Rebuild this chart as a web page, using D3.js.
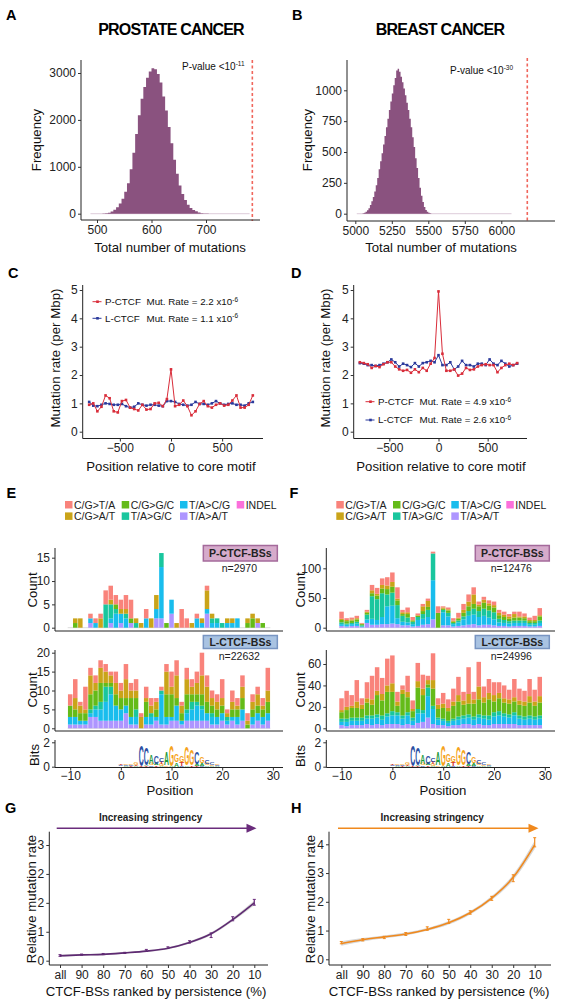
<!DOCTYPE html>
<html><head><meta charset="utf-8">
<script src="https://cdn.jsdelivr.net/npm/d3@7"></script>
<style>body{margin:0;background:#fff}</style>
</head><body>
<script>
// ---------------- DATA ----------------
// Panel A: prostate permutation histogram (bin start, bin width 5)
const prostateBins   = [510,515,520,525,530,535,540,545,550,555,560,565,570,575,580,585,590,595,600,605,610,615,620,625,630,635,640,645,650,655,660,665,670,675,680,685,690,695,700];
const prostateCounts = [3,8,20,45,85,140,220,320,470,650,950,1300,1700,2100,2450,2700,2900,3030,3100,3080,2980,2800,2500,2200,1850,1500,1150,850,600,420,290,190,120,80,50,25,12,5,2];
const prostateObserved = 785;
// Panel B: breast permutation histogram (bin start, bin width 10)
const breastBins   = [5050,5060,5070,5080,5090,5100,5110,5120,5130,5140,5150,5160,5170,5180,5190,5200,5210,5220,5230,5240,5250,5260,5270,5280,5290,5300,5310,5320,5330,5340,5350,5360,5370,5380,5390,5400,5410,5420,5430,5440,5450,5460,5470,5480,5490,5500,5510];
const breastCounts = [3,8,15,28,45,70,100,135,180,230,290,360,425,490,560,630,700,770,840,910,975,1040,1100,1160,1175,1150,1110,1065,1015,960,900,840,770,700,620,540,450,370,290,210,145,95,55,30,15,7,3];
const breastObserved = 6178;
// Panels C/D: mutation rate around motif
const motifOffsets = [-800,-760,-720,-680,-640,-600,-560,-520,-480,-440,-400,-360,-320,-280,-240,-200,-160,-120,-80,-40,0,40,80,120,160,200,240,280,320,360,400,440,480,520,560,600,640,680,720,760,800];
const prostatePRate = [0.95,1.0,0.72,0.88,1.28,1.18,0.72,0.68,1.08,1.12,0.85,0.8,0.75,0.95,0.78,0.8,1.0,1.02,0.9,1.15,2.2,0.9,0.95,1.1,0.9,0.58,0.72,0.98,1.08,0.9,0.85,0.95,1.0,0.92,0.95,1.1,1.28,0.85,0.85,0.95,1.28];
const prostateLRate = [1.05,0.92,0.9,0.95,1.0,0.98,0.95,0.95,0.98,0.9,0.85,0.88,1.0,0.95,0.92,0.95,0.95,0.92,0.9,1.08,1.08,1.05,0.98,0.95,0.92,0.95,1.05,0.98,0.98,0.95,1.0,1.08,1.0,0.95,0.98,1.0,0.95,0.95,0.92,1.0,1.05];
const breastPRate = [2.45,2.42,2.38,2.25,2.32,2.28,2.38,2.45,2.45,2.3,2.2,2.15,2.18,2.08,2.2,2.1,2.25,2.15,2.4,2.6,4.95,2.75,2.15,2.15,2.2,1.98,2.05,2.25,2.18,2.2,2.3,2.35,2.38,2.35,2.35,2.1,2.25,2.35,2.4,2.35,2.42];
const breastLRate = [2.42,2.4,2.35,2.35,2.32,2.35,2.4,2.45,2.55,2.45,2.3,2.4,2.35,2.28,2.42,2.3,2.42,2.45,2.5,2.45,2.7,2.35,2.35,2.45,2.2,2.3,2.5,2.35,2.35,2.3,2.4,2.4,2.35,2.55,2.4,2.35,2.5,2.4,2.3,2.35,2.4];
// Panels E/F: mutation counts per motif position
const motifPositions = [-10,-9,-8,-7,-6,-5,-4,-3,-2,-1,0,1,2,3,4,5,6,7,8,9,10,11,12,13,14,15,16,17,18,19,20,21,22,23,24,25,26,27,28,29];
const mutTypes  = ["C/G>T/A","C/G>A/T","C/G>G/C","T/A>G/C","T/A>C/G","T/A>A/T","INDEL"];
const mutColors = ["#F8766D","#C49A00","#53B400","#00C094","#00B6EB","#A58AFF","#FB61D7"];
// rows: counts stacked bottom->top in this order
const stackOrder = ["T/A>A/T","T/A>C/G","T/A>G/C","C/G>G/C","C/G>A/T","C/G>T/A"];
const prostatePCounts = [[0,0,0,0,0,0],[0,0,0,1,1,0],[0,0,0,0,2,0],[0,0,0,0,0,0],[1,1,0,0,0,1],[0,1,0,0,0,1],[0,0,0,0,2,1],[0,0,5,0,0,3],[1,1,3,0,1,3],[0,3,1,1,0,2],[1,2,0,0,1,2],[0,2,1,0,1,3],[1,0,0,1,0,4],[0,0,1,0,1,0],[0,0,0,0,1,0],[0,2,0,0,0,2],[0,0,0,0,2,0],[2,2,0,0,3,0],[2,11,3,0,0,0],[0,0,0,1,0,0],[3,3,0,0,0,0],[0,0,0,0,1,0],[0,0,0,0,0,4],[0,0,0,0,0,2],[0,0,0,0,1,0],[0,2,0,0,0,1],[0,1,0,0,1,0],[3,1,0,0,4,1],[0,1,1,0,1,0],[0,1,1,0,0,0],[0,0,1,0,0,0],[0,1,0,0,1,0],[0,1,0,0,1,0],[0,2,0,0,0,0],[0,0,0,0,0,0],[0,0,0,1,1,0],[0,0,0,2,1,0],[1,0,0,0,1,0],[0,0,0,1,0,0],[0,0,0,0,0,0]];
const prostateLCounts = [[1,2,0,3,0,3],[1,2,0,2,3,5],[1,1,0,2,2,1],[1,1,0,2,1,6],[3,1,1,4,5,2],[3,2,1,4,2,2],[2,3,2,5,4,2],[2,5,4,1,3,2],[2,7,2,1,2,1],[2,4,0,3,3,3],[2,3,0,3,2,2],[4,2,0,2,5,4],[1,2,0,5,2,2],[1,2,2,3,2,3],[0,0,0,0,3,1],[1,2,0,4,1,3],[1,2,1,0,2,2],[2,1,0,2,2,1],[1,8,1,0,0,1],[1,2,0,6,6,2],[2,1,0,6,2,4],[2,4,0,2,6,4],[1,1,0,2,2,1],[2,2,1,4,4,3],[2,3,2,2,2,2],[2,4,1,2,3,3],[2,3,1,3,5,6],[2,2,0,3,4,3],[1,2,1,2,2,2],[1,2,0,2,2,2],[2,2,0,2,2,5],[1,1,1,0,1,1],[2,1,0,2,2,3],[1,2,0,2,1,2],[2,3,0,3,3,3],[0,0,0,1,1,2],[1,2,0,2,2,2],[2,2,0,2,3,2],[1,2,0,2,1,2],[2,2,0,3,3,6]];
const breastPCounts = [[3,3,3,4,2,12],[2,3,2,4,2,3],[3,3,2,4,2,3],[3,4,3,4,2,4],[1,1,2,2,1,1],[8,6,8,3,2,3],[5,10,38,5,5,9],[5,8,35,6,3,10],[6,12,40,8,6,11],[6,30,20,9,6,14],[7,30,22,10,8,16],[6,10,22,8,3,19],[4,6,10,3,3,4],[4,5,8,6,3,8],[2,4,4,2,1,5],[3,10,5,2,1,3],[5,10,8,5,8,4],[6,12,12,5,10,4],[14,66,45,0,0,3],[0,0,0,25,0,11],[4,22,4,2,2,2],[4,15,6,4,2,3],[2,4,2,2,2,4],[3,6,3,3,2,8],[4,10,5,6,5,10],[5,15,8,8,8,12],[6,16,10,8,16,12],[4,14,10,8,3,5],[5,15,12,10,5,5],[5,12,12,8,4,5],[4,10,12,8,4,6],[3,6,6,6,4,5],[3,5,5,5,4,5],[2,5,4,4,4,4],[3,5,4,5,6,4],[3,5,4,5,2,8],[3,5,4,4,3,5],[2,3,3,3,2,4],[2,3,3,3,2,7],[3,5,4,7,2,12]];
const breastLCounts = [[3,3,3,6,2,11],[2,4,3,8,3,15],[3,4,3,9,2,10],[3,4,3,9,6,20],[3,4,3,8,4,6],[4,5,3,12,4,15],[3,6,3,10,5,22],[4,6,3,18,4,22],[3,5,4,14,6,15],[4,7,3,20,6,25],[4,8,4,18,8,26],[4,8,3,6,4,9],[3,6,3,20,4,4],[4,8,3,14,5,15],[3,4,3,6,2,8],[5,9,4,20,6,17],[6,8,3,14,6,13],[10,20,8,3,4,4],[4,14,3,16,8,25],[3,5,2,8,4,6],[3,4,2,10,4,10],[2,3,2,9,3,8],[3,4,2,12,4,12],[3,5,3,14,6,17],[4,5,3,10,4,8],[4,6,3,10,9,25],[3,5,3,12,4,7],[4,6,3,14,12,23],[3,6,3,12,5,10],[3,5,4,15,6,13],[4,7,4,10,6,12],[4,8,4,12,5,10],[4,7,3,10,4,12],[4,6,3,10,4,9],[4,8,3,10,4,17],[3,6,3,10,4,11],[3,5,3,10,4,10],[3,6,3,12,6,16],[3,5,3,10,4,11],[3,6,3,12,6,18]];
// Sequence logo (bits), stacked bottom->top
const logoPositions = [0,1,2,3,4,5,6,7,8,9,10,11,12,13,14,15,16,17,18,19];
const logoStacks = [
 [["A",0.04],["C",0.06],["T",0.12]],[["A",0.05],["C",0.06],["G",0.1]],[["T",0.05],["C",0.08],["G",0.12]],[["A",0.05],["T",0.08],["G",0.2]],
 [["T",0.05],["C",1.7]],[["T",0.05],["A",0.08],["C",1.45]],[["C",0.1],["G",0.15],["A",0.7]],[["T",0.1],["A",0.15],["C",0.65]],
 [["A",0.08],["G",0.15],["T",0.18],["C",0.3]],[["G",0.12],["A",1.1]],[["A",0.08],["G",1.75]],[["A",0.35],["G",0.65]],
 [["C",0.08],["T",0.3],["G",0.5]],[["A",0.1],["G",1.55]],[["T",0.12],["G",1.25]],[["T",0.08],["A",0.15],["C",0.95]],
 [["C",0.08],["A",0.25],["G",0.55]],[["A",0.1],["G",0.15],["C",0.3]],[["A",0.06],["G",0.1],["C",0.15]],[["A",0.05],["C",0.08],["G",0.12]]];
const logoColors = {A:"#1f9c3f",C:"#2c4fa3",G:"#f5a31c",T:"#d83a2f"};
// Panels G/H
const persistenceCats = ["all","90","80","70","60","50","40","30","20","10"];
const prostateRelFit  = [0.17,0.2,0.22,0.27,0.33,0.43,0.63,0.93,1.42,2.0];
const prostateRelMean = [0.18,0.21,0.23,0.27,0.36,0.45,0.65,0.88,1.45,2.02];
const prostateRelErr  = [0.03,0.02,0.02,0.02,0.03,0.03,0.04,0.08,0.07,0.1];
const prostateRelSe   = [0.04,0.03,0.03,0.03,0.03,0.03,0.04,0.05,0.06,0.08];
const breastRelFit  = [0.55,0.68,0.78,0.88,1.04,1.27,1.62,2.13,2.85,3.98];
const breastRelMean = [0.58,0.68,0.76,0.88,1.07,1.32,1.63,2.12,2.82,4.07];
const breastRelErr  = [0.04,0.04,0.04,0.05,0.06,0.07,0.06,0.07,0.12,0.16];
const breastRelSe   = [0.08,0.06,0.05,0.05,0.05,0.06,0.06,0.07,0.1,0.14];
const gTickLabels = ["0","1","2","2","3"];
const hTickLabels = ["0","1","2","3","4"];

// ---------------- DRAW ----------------
const FONT = "'Liberation Sans', Arial, sans-serif";
const svg = d3.select("body").append("svg").attr("width",566).attr("height",1007).attr("font-family",FONT);
svg.append("rect").attr("width",566).attr("height",1007).attr("fill","#fff");

function txt(x,y,s,o={}){const t=svg.append("text").attr("x",x).attr("y",y).text(s).attr("font-size",o.size||13.2).attr("fill",o.fill||"#111");
  if(o.anchor)t.attr("text-anchor",o.anchor); if(o.weight)t.attr("font-weight",o.weight); if(o.ls)t.attr("letter-spacing",o.ls); return t;}
function vtxt(x,y,s,size){svg.append("text").attr("transform",`translate(${x},${y}) rotate(-90)`).attr("text-anchor","middle").attr("font-size",size||13.2).attr("fill","#111").text(s);}
function ln(x1,y1,x2,y2,c="#222",w=1){return svg.append("line").attr("x1",x1).attr("y1",y1).attr("x2",x2).attr("y2",y2).attr("stroke",c).attr("stroke-width",w);}
function axL(scale,x,ticks,labels,size=12,pad=2){const a=svg.append("g").attr("transform",`translate(${x},0)`)
  .call(d3.axisLeft(scale).tickValues(ticks).tickSize(3).tickPadding(pad).tickFormat((d,i)=>labels?labels[i]:d));
  a.attr("font-family",FONT).attr("font-size",size); a.select(".domain").remove();
  a.selectAll(".tick line").attr("stroke","#333"); a.selectAll(".tick text").attr("fill","#222");}
function axB(scale,y,ticks,labels,size=12,pad=2){const a=svg.append("g").attr("transform",`translate(0,${y})`)
  .call(d3.axisBottom(scale).tickValues(ticks).tickSize(3).tickPadding(pad).tickFormat((d,i)=>labels?labels[i]:d));
  a.attr("font-family",FONT).attr("font-size",size); a.select(".domain").remove();
  a.selectAll(".tick line").attr("stroke","#333"); a.selectAll(".tick text").attr("fill","#222");}
function panelLabel(x,y,s){txt(x,y,s,{size:14.5,weight:"bold",fill:"#000"});}
function histArea(x,y,bins,counts,w){
  const pts=bins.map((b,i)=>[b,counts[i]]); pts.push([bins[bins.length-1]+w,0]);
  const area=d3.area().x(d=>x(d[0])).y0(y(0)).y1(d=>y(d[1])).curve(d3.curveStepAfter);
  svg.append("path").attr("d",area(pts)).attr("fill",histColor);
}

// ---- A ----
panelLabel(6,20,"A"); panelLabel(292,20,"B");
txt(171,35,"PROSTATE CANCER",{size:16,weight:"bold",anchor:"middle",ls:-0.8,fill:"#000"});
txt(440,35,"BREAST CANCER",{size:16,weight:"bold",anchor:"middle",ls:-0.8,fill:"#000"});
const histColor="#8a527f";
{
 const x=d3.scaleLinear().domain([500,700]).range([97,206]);
 const y=d3.scaleLinear().domain([0,3000]).range([213.7,73]);
 ln(x(488),y(0),x(780),y(0),"#e4d6e1",1.2);
 histArea(x,y,prostateBins,prostateCounts,5);
 ln(x(prostateObserved),60,x(prostateObserved),221,"#f0665c",1.6).attr("stroke-dasharray","3,2.5");
 ln(81,60,81,220); ln(81,220,260,220);
 axL(y,81,[0,1000,2000,3000]); axB(x,220,[500,600,700]);
 const p=txt(182,70,"P-value <10",{size:10}); p.append("tspan").attr("dy",-4).attr("font-size",6.5).text("-11");
 vtxt(41,140,"Frequency"); txt(170,252,"Total number of mutations",{anchor:"middle"});
}
// ---- B ----
{
 const x=d3.scaleLinear().domain([5000,6000]).range([355.3,501.3]);
 const y=d3.scaleLinear().domain([0,1000]).range([213.7,90.3]);
 ln(x(5010),y(0),x(6070),y(0),"#e4d6e1",1.2);
 histArea(x,y,breastBins,breastCounts,10);
 ln(x(breastObserved),58,x(breastObserved),221,"#f0665c",1.6).attr("stroke-dasharray","3,2.5");
 ln(347,60,347,221); ln(347,221,555,221);
 axL(y,347,[0,250,500,750,1000]); axB(x,221,[5000,5250,5500,5750,6000]);
 const p=txt(450,74,"P-value <10",{size:10}); p.append("tspan").attr("dy",-4).attr("font-size",6.5).text("-30");
 vtxt(312,140,"Frequency"); txt(441,252,"Total number of mutations",{anchor:"middle"});
}
// ---- C / D ----
const redC="#d92d3a", blueC="#2b3a9c";
function ratePanel(x0,x1,pRate,lRate,legY,legX,rates,label,lx){
 const x=d3.scaleLinear().domain([-880,880]).range([x0,x1]);
 const y=d3.scaleLinear().domain([0,5]).range([431.7,290]);
 const line=d3.line().x((d,i)=>x(motifOffsets[i])).y(d=>y(d));
 [[lRate,blueC],[pRate,redC]].forEach(([arr,c])=>{
  svg.append("path").attr("d",line(arr)).attr("fill","none").attr("stroke",c).attr("stroke-width",1);
  svg.append("g").selectAll("rect").data(arr).join("rect").attr("x",(d,i)=>x(motifOffsets[i])-1.3).attr("y",d=>y(d)-1.3)
   .attr("width",2.6).attr("height",2.6).attr("fill",c);
 });
 const ax=x0+1.7;
 ln(ax,285,ax,438.5); ln(ax,438.5,x1+2,438.5);
 axL(y,ax,[0,1,2,3,4,5]); axB(x,438.5,[-500,0,500],["−500","0","500"]);
 [["P-CTCF",redC,rates[0]],["L-CTCF",blueC,rates[1]]].forEach(([n,c,r],k)=>{
  const yy=legY[k];
  ln(legX-5,yy,legX+4,yy,c,1);
  svg.append("rect").attr("x",legX-1.3).attr("y",yy-1.3).attr("width",2.6).attr("height",2.6).attr("fill",c);
  txt(legX+7.5,yy+3.4,n,{size:9.8});
  const t=txt(legX+49,yy+3.4,"Mut. Rate = "+r+" x10",{size:9.8}); t.append("tspan").attr("dy",-3.5).attr("font-size",6.5).text("-6");
 });
 panelLabel(lx,277.5,label);
}
ratePanel(81,261,prostatePRate,prostateLRate,[301.7,318.3],97.5,["2.2","1.1"],"C",8);
ratePanel(352,525,breastPRate,breastLRate,[401.7,420],370.5,["4.9","2.6"],"D",291);
vtxt(60,358,"Mutation rate (per Mbp)",13.3); vtxt(330,358,"Mutation rate (per Mbp)",13.3);
txt(171,470.5,"Position relative to core motif",{anchor:"middle"});
txt(441,470.5,"Position relative to core motif",{anchor:"middle"});

// ---- E / F ----
function legend(cols,rows){
 const place=[[0,0],[0,1],[1,0],[1,1],[2,0],[2,1],[3,0]];
 mutTypes.forEach((m,i)=>{const [c,r]=place[i];
  svg.append("rect").attr("x",cols[c]).attr("y",rows[r]-3.8).attr("width",7.5).attr("height",7.5).attr("fill",mutColors[i]).attr("opacity",0.9);
  txt(cols[c]+9,rows[r]+3.7,m,{size:10.5,fill:"#222"});});
}
function bars(x,y,rows){
 const data=rows.map((r,i)=>({pos:motifPositions[i],v:r}));
 const series=d3.stack().keys([0,1,2,3,4,5]).value((d,k)=>d.v[k])(data);
 series.forEach((s,k)=>{const col=mutColors[mutTypes.indexOf(stackOrder[k])];
  svg.append("g").selectAll("rect").data(s.filter(d=>d[1]>d[0])).join("rect")
   .attr("x",d=>x(d.data.pos)-2.25).attr("width",4.5).attr("y",d=>y(d[1])).attr("height",d=>y(d[0])-y(d[1]))
   .attr("fill",col).attr("opacity",0.9);});
}
function tagBox(x,y,w,h,label,fill,stroke){
 svg.append("rect").attr("x",x).attr("y",y).attr("width",w).attr("height",h).attr("fill",fill).attr("stroke",stroke).attr("stroke-width",1.5);
 txt(x+w/2,y+h/2+3.8,label,{size:10.5,weight:"bold",anchor:"middle",fill:"#222"});
}
function logo(x,y){
 const gw={A:0.722,C:0.722,G:0.778,T:0.611};
 logoStacks.forEach((st,i)=>{let base=0; const cx=x(logoPositions[i]);
  st.forEach(([L,h])=>{const yb=y(base), hp=y(0)-y(h);
   svg.append("text").text(L).attr("text-anchor","middle").attr("font-size",10).attr("font-weight","bold").attr("fill",logoColors[L])
    .attr("transform",`translate(${cx},${yb}) scale(${5/(gw[L]*10)},${hp/7.16})`);
   base+=h;});});
}
function mutPanel(ax,axEnd,logoEnd,topRows,botRows,topMax,topTicks,botMax,botTicks,cols,nTop,nBot,label,lx){
 const x=d3.scaleLinear().domain([-13,32]).range([ax,axEnd]);
 const yT=d3.scaleLinear().domain([0,topMax]).range([627.7,topTicks.pxTop]);
 const yB=d3.scaleLinear().domain([0,botMax]).range([728.3,botTicks.pxTop]);
 const yL=d3.scaleLinear().domain([0,2]).range([766.7,742.3]);
 legend(cols,[504.8,516.2]);
 ln(x(-10.5),yT(0),x(29.5),yT(0),"#ddd",1); ln(x(-10.5),yB(0),x(29.5),yB(0),"#ddd",1);
 bars(x,yT,topRows); bars(x,yB,botRows);
 ln(ax,548,ax,631); ln(ax,631,axEnd,631);
 ln(ax,650,ax,731); ln(ax,731,axEnd,731);
 ln(ax,740,ax,767.5); ln(ax,767.5,logoEnd,767.5);
 axL(yT,ax,topTicks.v); axL(yB,ax,botTicks.v); axL(yL,ax,[0,2]);
 logo(x,yL);
 axB(x,767.5,[-10,0,10,20,30],["−10","0","10","20","30"],12,1);
 const bx=x(29.5)-67;
 tagBox(bx,545.5,74,15.5,"P-CTCF-BSs","#d6abcb","#a46a9b");
 txt(bx+36,572,nTop,{size:10.5,anchor:"middle",fill:"#222"});
 tagBox(bx,635.5,74,13,"L-CTCF-BSs","#a9c3e2","#7895c2");
 txt(bx+36,660,nBot,{size:10.5,anchor:"middle",fill:"#222"});
 panelLabel(lx,497.7,label);
}
mutPanel(55,283,283,prostatePCounts,prostateLCounts,15,{v:[0,5,10,15],pxTop:557.7},20,{v:[0,5,10,15,20],pxTop:652.7},[65,121.7,180,236.7],"n=2970","n=22632","E",6.5);
mutPanel(326.3,555,550,breastPCounts,breastLCounts,100,{v:[0,50,100],pxTop:568.3},60,{v:[0,20,40,60],pxTop:664},[336.3,393,451.3,506.3],"n=12476","n=24996","F",289.5);
vtxt(37,590,"Count"); vtxt(37,690,"Count"); vtxt(39,755,"Bits");
vtxt(304.5,590,"Count"); vtxt(304.5,690,"Count"); vtxt(305,756,"Bits");
txt(170,794.5,"Position",{anchor:"middle"}); txt(443,794.5,"Position",{anchor:"middle"});

// ---- G / H ----
function relPanel(x0,x1,xFirst,xLast,y0px,y4px,fit,mean,err,se,col,lineCol,tickLabels,arrowX0,arrowX1,label,lx){
 const x=d3.scalePoint().domain(persistenceCats).range([xFirst,xLast]);
 const y=d3.scaleLinear().domain([0,4]).range([y0px,y4px]);
 const area=d3.area().x((d,i)=>x(persistenceCats[i])).y0((d,i)=>y(fit[i]-se[i])).y1((d,i)=>y(fit[i]+se[i])).curve(d3.curveMonotoneX);
 svg.append("path").attr("d",area(fit)).attr("fill","#bdbdbd").attr("opacity",0.6);
 mean.forEach((m,i)=>{const cx=x(persistenceCats[i]);
  ln(cx,y(m-err[i]),cx,y(m+err[i]),col,1.2);
  ln(cx-1.5,y(m-err[i]),cx+1.5,y(m-err[i]),col,1); ln(cx-1.5,y(m+err[i]),cx+1.5,y(m+err[i]),col,1);});
 const line=d3.line().x((d,i)=>x(persistenceCats[i])).y(d=>y(d)).curve(d3.curveMonotoneX);
 svg.append("path").attr("d",line(fit)).attr("fill","none").attr("stroke",lineCol).attr("stroke-width",1.6);
 ln(x0,831.7,x0,965); ln(x0,965,x1,965);
 axL(y,x0,[0,1,2,3,4],tickLabels); axB(x,965,persistenceCats);
 ln(arrowX0,828.3,arrowX1-6,828.3,col,1.6);
 svg.append("path").attr("d",`M${arrowX1-10},823.8L${arrowX1},828.3L${arrowX1-10},832.8Z`).attr("fill",col);
 txt((arrowX0+arrowX1)/2-6,820.5,"Increasing stringency",{size:10,weight:"bold",anchor:"middle",fill:"#222"});
 panelLabel(lx,813,label);
}
relPanel(49.3,268,60,254.3,960.7,845,prostateRelFit,prostateRelMean,prostateRelErr,prostateRelSe,"#6a2c7c","#5e2a72",gTickLabels,56.7,256.5,"G",5);
relPanel(329,551,341.3,534.7,959.3,844.3,breastRelFit,breastRelMean,breastRelErr,breastRelSe,"#f0891d","#f0891d",hTickLabels,338,538.5,"H",291);
vtxt(35.5,899,"Relative mutation rate"); vtxt(315,899,"Relative mutation rate");
txt(156,996,"CTCF-BSs ranked by persistence (%)",{anchor:"middle"});
txt(439,996,"CTCF-BSs ranked by persistence (%)",{anchor:"middle"});
</script></body></html>
